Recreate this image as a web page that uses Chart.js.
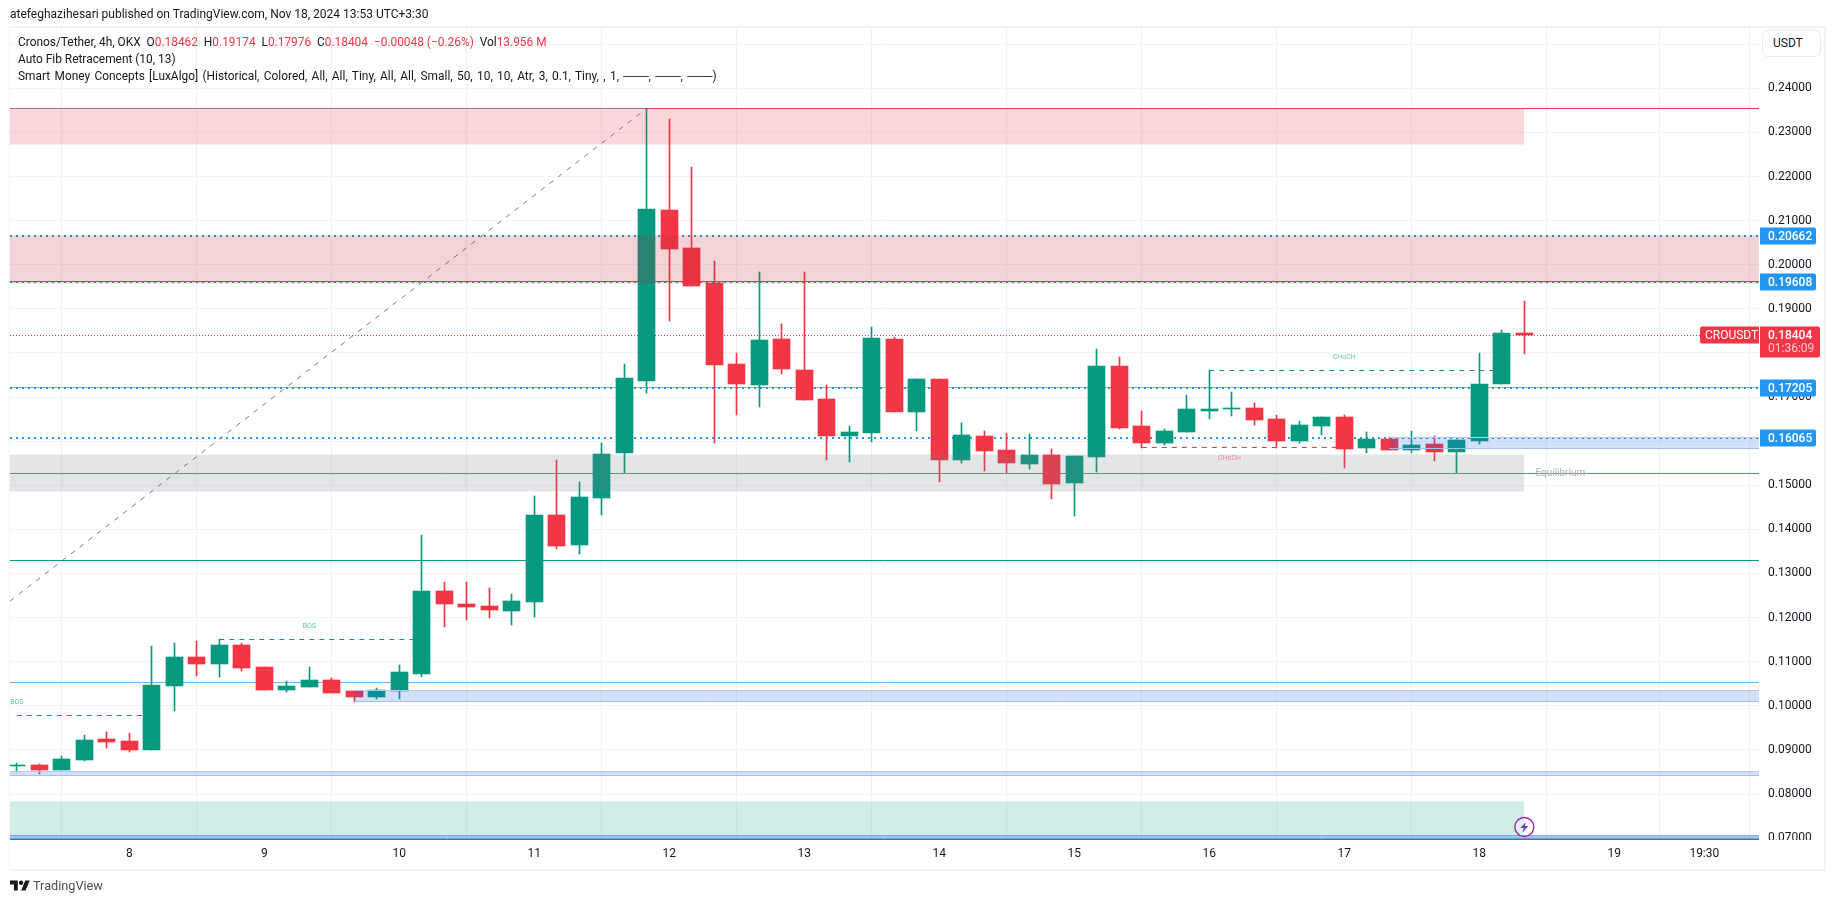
<!DOCTYPE html>
<html><head><meta charset="utf-8">
<script src="https://cdn.jsdelivr.net/npm/chart.js@4/dist/chart.umd.min.js"></script>
<style>
html,body{margin:0;padding:0;background:#fff;width:1835px;height:903px;overflow:hidden;font-family:Roboto,sans-serif;color:#131722}
#c{position:absolute;left:0;top:0}
.t{position:absolute;white-space:pre;font-size:11.9px;line-height:16px;color:#131722}
.r{color:#f23645}
#frame{position:absolute;left:9px;top:26px;width:1814px;height:841px;border:2px solid #f0f3fa;border-left-width:1px;pointer-events:none}
#btn{position:absolute;left:1762px;top:30px;width:59px;height:27px;box-sizing:border-box;border:1px solid #e8eaf2;border-radius:6px;background:#fff;font-size:12px;line-height:25px;padding-left:10px;color:#131722}
#logo{position:absolute;left:10px;top:880px}
#brand{position:absolute;left:33px;top:877px;font-size:12.7px;line-height:18px;color:#4a4e59}
</style></head><body>
<canvas id="c" width="1835" height="903"></canvas>
<div id="frame"></div>
<div class="t" style="left:10px;top:6px;font-size:12px">atefeghazihesari published on TradingView.com, Nov 18, 2024 13:53 UTC+3:30</div>
<div class="t" style="left:18px;top:34px">Cronos/Tether, 4h, OKX  O<span class="r">0.18462</span>  H<span class="r">0.19174</span>  L<span class="r">0.17976</span>  C<span class="r">0.18404</span>  <span class="r">−0.00048 (−0.26%)</span>  Vol<span class="r">13.956 M</span></div>
<div class="t" style="left:18px;top:51px">Auto Fib Retracement (10, 13)</div>
<div class="t" style="left:18px;top:68px;word-spacing:1.4px">Smart Money Concepts [LuxAlgo] (Historical, Colored, All, All, Tiny, All, All, Small, 50, 10, 10, Atr, 3, 0.1, Tiny, , 1, ───, ───, ───)</div>
<div id="btn">USDT</div>
<svg id="logo" width="20" height="11" viewBox="0 4 36 18"><path fill="#131722" d="M14 22H7V11H0V4h14v18zM28 22h-8l7.5-18h8L28 22z"/><circle fill="#131722" cx="20" cy="8" r="4"/></svg>
<div id="brand">TradingView</div>
<script>
// 4h candles; index 0 is the first candle of day 8
const firstIndex = -5;
const openP  = [0.0864,0.08657,0.0854,0.08772,0.09247,0.09202,0.08998,0.10449,0.11107,0.10948,0.11379,0.1088,0.10358,0.10426,0.10585,0.10335,0.10199,0.10335,0.10721,0.12604,0.12309,0.12263,0.1215,0.12354,0.14327,0.13647,0.14712,0.15733,0.17365,0.21243,0.20381,0.19587,0.1775,0.17274,0.18317,0.17614,0.16957,0.16118,0.16186,0.18317,0.16662,0.1741,0.15574,0.16118,0.158,0.15483,0.15687,0.15052,0.15642,0.17705,0.16345,0.1596,0.16209,0.16685,0.1673,0.16753,0.16503,0.16005,0.16345,0.16549,0.15846,0.1605,0.158,0.15937,0.15755,0.16005,0.17297,0.18462];
const closeP = [0.0866,0.0854,0.0879,0.09225,0.0918,0.08998,0.10472,0.11107,0.10948,0.11379,0.10857,0.10358,0.10449,0.10585,0.1029,0.10199,0.10358,0.10766,0.12604,0.12309,0.12241,0.12172,0.12376,0.14327,0.13624,0.14735,0.1571,0.17433,0.21266,0.20358,0.19519,0.17728,0.17297,0.18295,0.17637,0.16934,0.16118,0.16209,0.1834,0.16662,0.1741,0.15574,0.1614,0.15778,0.15506,0.15687,0.15029,0.15664,0.17705,0.16299,0.1596,0.16231,0.1673,0.1673,0.16753,0.16481,0.16005,0.16367,0.16549,0.15823,0.1605,0.158,0.15914,0.15755,0.16027,0.17297,0.18454,0.18404];
const highP  = [0.0871,0.0868,0.08862,0.09337,0.09406,0.09384,0.11356,0.11424,0.11469,0.11515,0.11424,0.1088,0.10562,0.1088,0.1063,0.10335,0.10403,0.10925,0.13873,0.12807,0.12807,0.12671,0.12535,0.14757,0.15574,0.15075,0.15959,0.17751,0.23549,0.23306,0.22218,0.20086,0.18,0.19837,0.18658,0.19837,0.17274,0.16345,0.1859,0.18363,0.1741,0.1741,0.16413,0.16231,0.16186,0.16163,0.15823,0.15664,0.1809,0.17909,0.16685,0.16277,0.17048,0.17615,0.17116,0.16866,0.16594,0.16458,0.16549,0.16594,0.16209,0.16095,0.16231,0.16118,0.16027,0.18,0.18522,0.19174];
const lowP   = [0.085,0.0845,0.0854,0.0875,0.09043,0.08952,0.08998,0.09882,0.10676,0.10653,0.10789,0.10358,0.10313,0.10426,0.1029,0.10086,0.10154,0.10154,0.10653,0.11787,0.11946,0.11991,0.11832,0.12014,0.13556,0.13442,0.14327,0.15272,0.17093,0.18726,0.19519,0.15959,0.16594,0.16776,0.17524,0.16934,0.15574,0.15528,0.15982,0.16662,0.16231,0.15075,0.15506,0.15324,0.15279,0.1537,0.1469,0.14304,0.15302,0.16277,0.15846,0.15914,0.16209,0.16503,0.16571,0.16367,0.15846,0.15959,0.1614,0.15392,0.15733,0.158,0.15733,0.15551,0.15272,0.15937,0.17297,0.17976];

// scale ticks
const yTickValues = [0.07,0.08,0.09,0.10,0.11,0.12,0.13,0.14,0.15,0.16,0.17,0.18,0.19,0.20,0.21,0.22,0.23,0.24,0.25];
const xTickIndex  = [0,6,12,18,24,30,36,42,48,54,60,66,70];
const xTickLabels = ['8','9','10','11','12','13','14','15','16','17','18','19','19:30'];

// levels: price, x start, x end (candle index, or null for the plot edge), colour, draw order
const fibStart = [-5.3,0.12376], fibEnd = [23,0.23549];
const solidLevels = [
 [0.23549,23,null,'#f23645',37],[0.23549,null,23,'#8d7cb8',37],[0.1962,null,null,'#e5404e',37],
 [0.17222,null,null,'#8fbf8f',41],[0.15272,null,null,'#5b9d62',37],[0.13299,null,null,'#089981',37],
 [0.10533,null,null,'#64b5f6',37],[0.06973,null,null,'#089981',37]];
const dottedLevels = [0.20662,0.19608,0.17205,0.16065];
const lastPrice = 0.18404;
const dashedBreaks = [[0.09785,-5,1,'#089981'],[0.11508,4,13,'#089981'],[0.17608,48,61,'#089981'],[0.15853,45,54,'#f23645']];
// zones: top, bottom, x start, x end, fill, edge
const zones = [
 [0.23549,0.22723,null,62,'rgba(242,54,69,0.2)',null],
 [0.20662,0.1958,null,null,'rgba(178,40,51,0.2)',null],
 [0.15687,0.14848,null,62,'rgba(120,123,134,0.2)',null],
 [0.07819,0.0707,null,62,'rgba(8,153,129,0.18)',null],
 [0.10339,0.10093,10,null,'rgba(33,100,230,0.2)','#b3c9f5'],
 [0.16088,0.1583,56,null,'rgba(33,100,230,0.2)','#b3c9f5'],
 [0.085,0.08415,null,null,'rgba(33,100,230,0.2)','#b3c9f5'],
 [0.07063,0.0698,null,null,'rgba(33,100,230,0.4)','#8ea9e2']];
const structureLabels = [['BOS',-5,0.10078,'#5cc0a9'],['BOS',8,0.11799,'#5cc0a9'],['CHoCH',54.0,0.179,'#6ac6b2'],['CHoCH',48.9,0.15604,'#f68a92']];
const equilibriumLabel = ['Equilibrium',63.6,0.15263];
const priceTags = [[0.20662,'0.20662'],[0.19608,'0.19608'],[0.17205,'0.17205'],[0.16065,'0.16065']];
const symbolName = 'CROUSDT', countdown = '01:36:09', alertPrice = 0.07252;

const UP='#089981', DOWN='#f23645';
const XMIN=-5.302, XMAX=72.43, YMIN=0.06957, YMAX=0.25392;
const lineDs=(pts,color,width,dash,order,extra)=>Object.assign({type:'line',data:pts.map(p=>({x:p[0],y:p[1]})),borderColor:color,borderWidth:width,borderDash:dash||[],pointRadius:0,tension:0,order,fill:false,snap:true},extra||{});
const xs=(a,b)=>[a===null?XMIN:a,b===null?XMAX:b];

const datasets=[];
solidLevels.forEach(l=>{const [a,b]=xs(l[1],l[2]);datasets.push(lineDs([[a,l[0]],[b,l[0]]],l[3],1,[],l[4]));});
dottedLevels.forEach(v=>datasets.push(lineDs([[XMIN,v],[XMAX,v]],'#2196f3',2,[2,4],38)));
datasets.push(lineDs([[XMIN,lastPrice],[XMAX,lastPrice]],DOWN,1,[1,2],39));
dashedBreaks.forEach(l=>datasets.push(lineDs([[l[1],l[0]],[l[2],l[0]]],l[3],1,[5,5],36)));
datasets.push(Object.assign(lineDs([fibStart,fibEnd],'#787b86',1,[5,6],35),{snap:false}));

const colors=openP.map((o,i)=>closeP[i]>=o?UP:DOWN);
const wickData=highP.map((h,i)=>({x:firstIndex+i,y:[lowP[i],h]}));
const bodyData=openP.map((o,i)=>({x:firstIndex+i,y:[Math.min(o,closeP[i]),Math.max(o,closeP[i])]}));
datasets.push({type:'bar',data:wickData,backgroundColor:colors,barThickness:1,grouped:false,order:20,borderWidth:0});
datasets.push({type:'bar',data:bodyData,backgroundColor:colors,barThickness:17,grouped:false,order:10,borderWidth:0});

zones.forEach(z=>{const [a,b]=xs(z[2],z[3]);
 const e=z[5]||'rgba(0,0,0,0)';
 datasets.push(lineDs([[a,z[0]],[b,z[0]]],e,1,[],5,{fill:'+1',backgroundColor:z[4]}));
 datasets.push(lineDs([[a,z[1]],[b,z[1]]],e,1,[],5));
});

const snapPlugin={id:'snap',afterDatasetsUpdate(chart){
 chart.data.datasets.forEach((d,i)=>{const m=chart.getDatasetMeta(i);
  if(d.type==='bar'){m.data.forEach(el=>{el.x=Math.round(el.x-0.5)+0.5;el.y=Math.round(el.y);el.base=Math.round(el.base);});}
  else if(d.snap){const off=d.borderWidth===2?0:0.5;m.data.forEach(el=>{el.y=Math.round(el.y-off)+off;});}
 });
}};

function tag(ctx,x,y,w,h,color,r){ctx.fillStyle=color;ctx.beginPath();ctx.roundRect(x,y,w,h,r);ctx.fill();}
const overlayPlugin={id:'overlay',
 afterDatasetsDraw(chart){const {ctx,scales:{x,y}}=chart;ctx.save();
  ctx.textAlign='center';ctx.textBaseline='middle';
  ctx.font='7px Roboto';
  structureLabels.forEach(l=>{ctx.fillStyle=l[3];ctx.fillText(l[0],x.getPixelForValue(l[1]),y.getPixelForValue(l[2]));});
  ctx.font='10px Roboto';ctx.fillStyle='#b2b5be';
  ctx.fillText(equilibriumLabel[0],x.getPixelForValue(equilibriumLabel[1]),y.getPixelForValue(equilibriumLabel[2]));
  const bx=x.getPixelForValue(firstIndex+openP.length-1),by=y.getPixelForValue(alertPrice);
  ctx.beginPath();ctx.arc(bx,by,9.5,0,Math.PI*2);ctx.fillStyle='rgba(255,255,255,0.35)';ctx.fill();ctx.lineWidth=1.4;ctx.strokeStyle='#9c27b0';ctx.stroke();
  ctx.fillStyle='#7b3bb0';ctx.beginPath();ctx.moveTo(bx+1.5,by-5);ctx.lineTo(bx-4,by+1);ctx.lineTo(bx-.5,by+1);ctx.lineTo(bx-2,by+5.5);ctx.lineTo(bx+4,by-1);ctx.lineTo(bx+.5,by-1);ctx.closePath();ctx.fill();
  ctx.restore();},
 afterDraw(chart){const {ctx,scales:{y},chartArea:ca}=chart;ctx.save();
  ctx.fillStyle='#fff';ctx.fillRect(ca.right,ca.bottom,64,8);
  ctx.textBaseline='middle';ctx.textAlign='left';
  const ax=ca.right+1;
  priceTags.forEach(p=>{const py=Math.round(y.getPixelForValue(p[0]));
   tag(ctx,ax,py-8.5,56,17,'#2196f3',[0,2,2,0]);
   ctx.font='500 12px Roboto';ctx.fillStyle='#fff';ctx.fillText(p[1],ax+8,py+.5);});
  const ly=Math.round(y.getPixelForValue(lastPrice));
  tag(ctx,ax,ly-8.5,60,31,DOWN,[0,2,2,0]);
  ctx.font='500 12px Roboto';ctx.fillStyle='#fff';ctx.fillText(lastPrice.toFixed(5),ax+8,ly+.5);
  ctx.font='12px Roboto';ctx.fillStyle='#fccbcf';ctx.fillText(countdown,ax+8,ly+14);
  tag(ctx,ca.right-59,ly-8.5,59,17,DOWN,[2,0,0,2]);
  ctx.font='12px Roboto';ctx.fillStyle='#fff';ctx.fillText(symbolName,ca.right-54,ly+.5);
  ctx.restore();}
};

new Chart(document.getElementById('c'),{
 data:{datasets},
 plugins:[snapPlugin,overlayPlugin],
 options:{responsive:false,animation:false,devicePixelRatio:1,
  layout:{padding:{left:10,top:27,right:10,bottom:36}},
  plugins:{legend:{display:false},tooltip:{enabled:false}},
  scales:{
   x:{type:'linear',position:'bottom',min:XMIN,max:XMAX,offset:false,
    afterBuildTicks:s=>{s.ticks=xTickIndex.map(v=>({value:v}));},
    afterFit:s=>{s.height=27;},
    border:{display:false},
    grid:{color:'#f0f2f5',drawTicks:false,lineWidth:1},
    ticks:{autoSkip:false,maxRotation:0,padding:7,color:'#131722',font:{family:'Roboto',size:12},
     callback:v=>xTickLabels[xTickIndex.indexOf(v)]}},
   y:{type:'linear',position:'right',min:YMIN,max:YMAX,
    afterBuildTicks:s=>{s.ticks=yTickValues.map(v=>({value:v}));},
    afterFit:s=>{s.width=66;},
    border:{display:false},
    grid:{color:'#f3f4f6',drawTicks:false,lineWidth:1},
    ticks:{autoSkip:false,padding:9,color:'#131722',font:{family:'Roboto',size:12},
     callback:v=>v>=0.25?'':v.toFixed(5)}}
  }}
});
</script>
</body></html>
